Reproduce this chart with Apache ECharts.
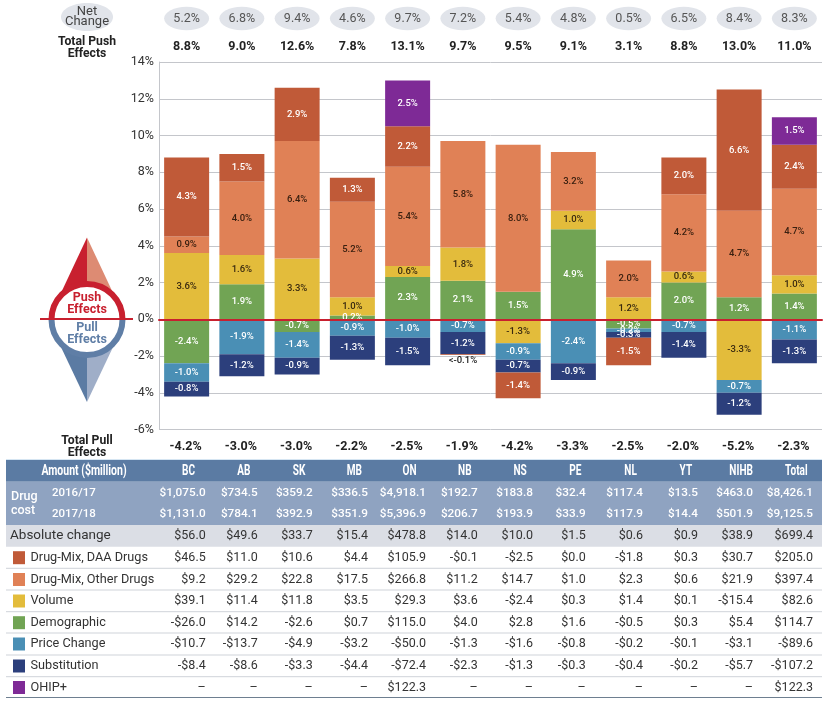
<!DOCTYPE html>
<html><head><meta charset="utf-8">
<style>html,body{margin:0;padding:0;background:#fff}#c{width:829px;height:705px}</style>
<script src="https://cdn.jsdelivr.net/npm/echarts@6/dist/echarts.min.js"></script>
</head><body><div id="c"></div>
<script>
const categories = ['BC','AB','SK','MB','ON','NB','NS','PE','NL','YT','NIHB','Total'];
const netChange  = ['5.2%','6.8%','9.4%','4.6%','9.7%','7.2%','5.4%','4.8%','0.5%','6.5%','8.4%','8.3%'];
const totalPush  = ['8.8%','9.0%','12.6%','7.8%','13.1%','9.7%','9.5%','9.1%','3.1%','8.8%','13.0%','11.0%'];
const totalPull  = ['-4.2%','-3.0%','-3.0%','-2.2%','-2.5%','-1.9%','-4.2%','-3.3%','-2.5%','-2.0%','-5.2%','-2.3%'];

const demographic = [-2.4,1.9,-0.7,0.2,2.3,2.1,1.5,4.9,-0.5,2.0,1.2,1.4];
const volume      = [3.6,1.6,3.3,1.0,0.6,1.8,-1.3,1.0,1.2,0.6,-3.3,1.0];
const priceChange = [-1.0,-1.9,-1.4,-0.9,-1.0,-0.7,-0.9,-2.4,-0.2,-0.7,-0.7,-1.1];
const substitution= [-0.8,-1.2,-0.9,-1.3,-1.5,-1.2,-0.7,-0.9,-0.3,-1.4,-1.2,-1.3];
const otherDrugs  = [0.9,4.0,6.4,5.2,5.4,5.8,8.0,3.2,2.0,4.2,4.7,4.7];
const daaDrugs    = [4.3,1.5,2.9,1.3,2.2,-0.05,-1.4,null,-1.5,2.0,6.6,2.4];
const ohip        = [null,null,null,null,2.5,null,null,null,null,null,null,1.5];

const tableHead = 'Amount ($million)';
const cost2016 = ['$1,075.0','$734.5','$359.2','$336.5','$4,918.1','$192.7','$183.8','$32.4','$117.4','$13.5','$463.0','$8,426.1'];
const cost2017 = ['$1,131.0','$784.1','$392.9','$351.9','$5,396.9','$206.7','$193.9','$33.9','$117.9','$14.4','$501.9','$9,125.5'];
const absChange = ['$56.0','$49.6','$33.7','$15.4','$478.8','$14.0','$10.0','$1.5','$0.6','$0.9','$38.9','$699.4'];
const amtDaa    = ['$46.5','$11.0','$10.6','$4.4','$105.9','-$0.1','-$2.5','$0.0','-$1.8','$0.3','$30.7','$205.0'];
const amtOther  = ['$9.2','$29.2','$22.8','$17.5','$266.8','$11.2','$14.7','$1.0','$2.3','$0.6','$21.9','$397.4'];
const amtVolume = ['$39.1','$11.4','$11.8','$3.5','$29.3','$3.6','-$2.4','$0.3','$1.4','$0.1','-$15.4','$82.6'];
const amtDemo   = ['-$26.0','$14.2','-$2.6','$0.7','$115.0','$4.0','$2.8','$1.6','-$0.5','$0.3','$5.4','$114.7'];
const amtPrice  = ['-$10.7','-$13.7','-$4.9','-$3.2','-$50.0','-$1.3','-$1.6','-$0.8','-$0.2','-$0.1','-$3.1','-$89.6'];
const amtSubst  = ['-$8.4','-$8.6','-$3.3','-$4.4','-$72.4','-$2.3','-$1.3','-$0.3','-$0.4','-$0.2','-$5.7','-$107.2'];
const amtOhip   = ['–','–','–','–','$122.3','–','–','–','–','–','–','$122.3'];

const C = {daa:'#C05A38',other:'#E08156',vol:'#E3BC3B',demo:'#71A454',price:'#4A8FB5',sub:'#2C3F7C',ohip:'#7E2A96'};
const FONT = 'Roboto, "Noto Sans", sans-serif';
const INK = '#333';

const barSeries = [
  ['Demographic',demographic,C.demo,'#fff'],
  ['Volume',volume,C.vol,'#3a2a10'],
  ['Price Change',priceChange,C.price,'#fff'],
  ['Substitution',substitution,C.sub,'#fff'],
  ['Drug-Mix, Other Drugs',otherDrugs,C.other,'#3a2010'],
  ['Drug-Mix, DAA Drugs',daaDrugs,C.daa,'#fff'],
  ['OHIP+',ohip,C.ohip,'#fff']
];
const chart = echarts.init(document.getElementById('c'),null,{width:829,height:705});
const fmt = p => p.value.toFixed(1)+'%';
chart.setOption({
  animation:false,
  backgroundColor:'#fff',
  grid:{left:159,right:7,top:62,height:367.5,containLabel:false},
  xAxis:{type:'category',data:categories,z:6,
    axisLine:{onZero:true,lineStyle:{color:'#C8202F',width:2}},axisTick:{show:false},axisLabel:{show:false}},
  yAxis:{type:'value',min:-6,max:14,interval:2,
    axisLine:{show:true,lineStyle:{color:'#C4C6CB',width:1}},axisTick:{show:false},
    splitLine:{lineStyle:{color:'#C4C6CB',width:1}},
    axisLabel:{formatter:'{value}%',color:INK,fontFamily:FONT,fontSize:12.5,margin:5}},
  series:barSeries.map(([name,vals,color,tc])=>({
    name,type:'bar',stack:'all',barWidth:45,
    itemStyle:{color},
    label:{show:true,position:'inside',color:tc,fontFamily:FONT,fontSize:9.5,fontWeight:500,formatter:fmt},
    data:vals.map((v,i)=> (name==='Drug-Mix, DAA Drugs'&&categories[i]==='NB')
      ? {value:v,label:{position:'bottom',distance:1,color:'#222',formatter:'<-0.1%'}} : v)
  }))
});

const cx = categories.map((c,i)=>chart.convertToPixel({xAxisIndex:0},i));
const rightEdges = [205.7,257.7,312.7,368,426,477.7,533,585.7,643,698,753,813];
const g = [];
const txt = (x,y,text,o={}) => g.push({type:'text',z:o.z||20,x,y,scaleX:o.sx||1,style:{text,fill:o.fill||INK,
  font:`${o.weight||'normal'} ${o.size||12}px ${FONT}`,textAlign:o.align||'center',textVerticalAlign:'middle'}});
const rect = (x,y,w,h,fill,z=10) => g.push({type:'rect',z,shape:{x,y,width:w,height:h},style:{fill}});
const hline = (y,stroke,lw=1) => g.push({type:'line',z:11,shape:{x1:6,y1:y,x2:822,y2:y},style:{stroke,lineWidth:lw}});

// Header rows
g.push({type:'ellipse',z:10,shape:{cx:87,cy:17,rx:26,ry:14},style:{fill:'#E1E4EA'}});
txt(87,12,'Net',{size:13,fill:'#444'}); txt(87,21.5,'Change',{size:13,fill:'#444'});
txt(87,42,'Total Push',{size:12.2,weight:'bold',fill:'#222'}); txt(87,54,'Effects',{size:12.2,weight:'bold',fill:'#222'});
txt(87,441,'Total Pull',{size:12.2,weight:'bold',fill:'#222'}); txt(87,453,'Effects',{size:12.2,weight:'bold',fill:'#222'});
categories.forEach((c,i)=>{
  g.push({type:'ellipse',z:10,shape:{cx:cx[i],cy:18.5,rx:22.5,ry:11.7},style:{fill:'#E1E4EA'}});
  txt(cx[i],18.5,netChange[i],{size:12.5,fill:'#555'});
  txt(cx[i],47,totalPush[i],{size:12.5,weight:'bold',fill:'#222'});
  txt(cx[i]-1,447,totalPull[i],{size:12.5,weight:'bold',fill:'#222'});
});

// Compass icon
g.push({type:'polygon',z:10,shape:{points:[[87,237.5],[87,300],[60,295]]},style:{fill:'#C8202F'}});
g.push({type:'polygon',z:10,shape:{points:[[87,237.5],[114,295],[87,300]]},style:{fill:'#DD8B73'}});
g.push({type:'polygon',z:10,shape:{points:[[87,402],[87,340],[60,345]]},style:{fill:'#5B7BA3'}});
g.push({type:'polygon',z:10,shape:{points:[[87,402],[114,345],[87,340]]},style:{fill:'#9FAEC8'}});
g.push({type:'circle',z:11,shape:{cx:87,cy:319.5,r:36},style:{fill:'#fff'}});
g.push({type:'arc',z:12,shape:{cx:87,cy:319.5,r:35.5,startAngle:Math.PI,endAngle:2*Math.PI},style:{stroke:'#C8202F',lineWidth:6,fill:null}});
g.push({type:'arc',z:12,shape:{cx:87,cy:319.5,r:35.5,startAngle:0,endAngle:Math.PI},style:{stroke:'#5F7EA6',lineWidth:6,fill:null}});
txt(87,298,'Push',{size:12.5,weight:'bold',fill:'#C8202F'}); txt(87,310,'Effects',{size:12.5,weight:'bold',fill:'#C8202F'});
txt(87,327.5,'Pull',{size:12.5,weight:'bold',fill:'#5F7EA6'}); txt(87,339.5,'Effects',{size:12.5,weight:'bold',fill:'#5F7EA6'});
g.push({type:'line',z:15,shape:{x1:40,y1:319,x2:133,y2:319},style:{stroke:'#C8202F',lineWidth:2}});

// Table
hline(459.5,'#D5E5F2');
rect(6,460,816,21.7,'#5B7BA3');
rect(6,481.7,816,43.3,'#8FA3C1');
rect(6,525,816,21.7,'#DBDEE5');
txt(84,471,tableHead,{size:14,weight:'bold',fill:'#fff',sx:0.75});
categories.forEach((c,i)=>txt(cx[i]+2,471,c,{size:14,weight:'bold',fill:'#fff',sx:0.72}));
txt(11,497,'Drug',{align:'left',size:12.5,weight:'500',fill:'#fff'});
txt(11,511,'cost',{align:'left',size:12.5,weight:'500',fill:'#fff'});
txt(52,492.7,'2016/17',{align:'left',size:11.5,weight:'500',fill:'#fff'});
txt(52,514.3,'2017/18',{align:'left',size:11.5,weight:'500',fill:'#fff'});
const rowYs = [492.7,514.3,536,557.7,579.5,601,622.7,644,666,687.5];
const rows = [
  [null,null,cost2016],[null,null,cost2017],['Absolute change',null,absChange],
  ['Drug-Mix, DAA Drugs',C.daa,amtDaa],['Drug-Mix, Other Drugs',C.other,amtOther],['Volume',C.vol,amtVolume],
  ['Demographic',C.demo,amtDemo],['Price Change',C.price,amtPrice],['Substitution',C.sub,amtSubst],['OHIP+',C.ohip,amtOhip]
];
rows.forEach(([name,color,vals],r)=>{
  const y = rowYs[r];
  const light = r<2;
  if(name && color){
    rect(13,y-6.5,12,13,color);
    txt(30.5,y,name,{align:'left',size:12.7});
  } else if(name){
    txt(10,y,name,{align:'left',size:13.5});
  }
  vals.forEach((v,i)=>txt(rightEdges[i],y,v,{align:'right',size:light?11.8:12.5,weight:light?'500':'normal',fill:light?'#fff':INK}));
});
[568.3,590,611.7,633,655,676.7].forEach(y=>hline(y,'#CFD3D9'));
hline(697.5,'#6E7F90',1);

chart.setOption({graphic:{elements:g}});
</script></body></html>
